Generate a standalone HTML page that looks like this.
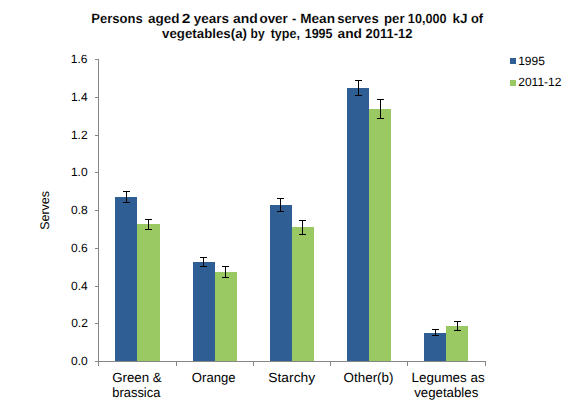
<!DOCTYPE html>
<html><head><meta charset="utf-8"><title>Chart</title><style>
html,body{margin:0;padding:0;background:#fff;width:575px;height:416px;overflow:hidden}
svg{display:block}
text{fill:#000;text-rendering:geometricPrecision}
</style></head><body>
<svg width="575" height="416" viewBox="0 0 575 416">
<g shape-rendering="crispEdges" fill="#000">
<rect x="115" y="197" width="22" height="164" fill="#2F5E95"/>
<rect x="137" y="224" width="23" height="137" fill="#9AC863"/>
<rect x="193" y="262" width="22" height="99" fill="#2F5E95"/>
<rect x="215" y="272" width="22" height="89" fill="#9AC863"/>
<rect x="270" y="205" width="22" height="156" fill="#2F5E95"/>
<rect x="292" y="227" width="22" height="134" fill="#9AC863"/>
<rect x="347" y="88" width="22" height="273" fill="#2F5E95"/>
<rect x="369" y="109" width="22" height="252" fill="#9AC863"/>
<rect x="424" y="333" width="22" height="28" fill="#2F5E95"/>
<rect x="446" y="326" width="22" height="35" fill="#9AC863"/>
<rect x="126" y="191" width="1" height="12"/>
<rect x="123" y="191" width="7" height="1"/>
<rect x="123" y="202" width="7" height="1"/>
<rect x="148" y="219" width="1" height="11"/>
<rect x="145" y="219" width="7" height="1"/>
<rect x="145" y="229" width="7" height="1"/>
<rect x="203" y="257" width="1" height="10"/>
<rect x="200" y="257" width="7" height="1"/>
<rect x="200" y="266" width="7" height="1"/>
<rect x="225" y="266" width="1" height="12"/>
<rect x="222" y="266" width="7" height="1"/>
<rect x="222" y="277" width="7" height="1"/>
<rect x="280" y="198" width="1" height="14"/>
<rect x="277" y="198" width="7" height="1"/>
<rect x="277" y="211" width="7" height="1"/>
<rect x="302" y="220" width="1" height="15"/>
<rect x="299" y="220" width="7" height="1"/>
<rect x="299" y="234" width="7" height="1"/>
<rect x="358" y="80" width="1" height="16"/>
<rect x="355" y="80" width="7" height="1"/>
<rect x="355" y="95" width="7" height="1"/>
<rect x="380" y="99" width="1" height="20"/>
<rect x="377" y="99" width="7" height="1"/>
<rect x="377" y="118" width="7" height="1"/>
<rect x="435" y="329" width="1" height="7"/>
<rect x="432" y="329" width="7" height="1"/>
<rect x="432" y="335" width="7" height="1"/>
<rect x="457" y="321" width="1" height="10"/>
<rect x="454" y="321" width="7" height="1"/>
<rect x="454" y="330" width="7" height="1"/>
<g fill="#868686">
<rect x="98" y="59" width="1" height="306"/>
<rect x="95" y="361" width="391" height="1"/>
<rect x="95" y="59" width="4" height="1"/>
<rect x="95" y="97" width="4" height="1"/>
<rect x="95" y="135" width="4" height="1"/>
<rect x="95" y="172" width="4" height="1"/>
<rect x="95" y="210" width="4" height="1"/>
<rect x="95" y="248" width="4" height="1"/>
<rect x="95" y="286" width="4" height="1"/>
<rect x="95" y="323" width="4" height="1"/>
<rect x="95" y="361" width="4" height="1"/>
<rect x="98" y="361" width="1" height="5"/>
<rect x="176" y="361" width="1" height="5"/>
<rect x="253" y="361" width="1" height="5"/>
<rect x="330" y="361" width="1" height="5"/>
<rect x="407" y="361" width="1" height="5"/>
<rect x="485" y="361" width="1" height="5"/>
</g>
<rect x="510" y="58" width="6" height="6" fill="#2F5E95"/>
<rect x="510" y="80" width="6" height="6" fill="#9AC863"/>
</g>
<g>
<text transform="translate(91.372,23) scale(0.9768,1)" x="0.000" y="0" style='font-family:"Liberation Sans",sans-serif;font-size:13.33px;font-weight:bold;stroke:#fff;stroke-width:0.1px'>Persons</text>
<text transform="translate(147.998,23) scale(1.0137,1)" x="0.000" y="0" style='font-family:"Liberation Sans",sans-serif;font-size:13.33px;font-weight:bold;stroke:#fff;stroke-width:0.1px'>aged</text>
<text transform="translate(181.781,23) scale(1.1711,1)" x="0.000" y="0" style='font-family:"Liberation Sans",sans-serif;font-size:13.33px;font-weight:bold;stroke:#fff;stroke-width:0.1px'>2</text>
<text transform="translate(193.777,23) scale(1.0102,1)" x="0.000" y="0" style='font-family:"Liberation Sans",sans-serif;font-size:13.33px;font-weight:bold;stroke:#fff;stroke-width:0.1px'>years</text>
<text transform="translate(233.059,23) scale(1.0466,1)" x="0.000" y="0" style='font-family:"Liberation Sans",sans-serif;font-size:13.33px;font-weight:bold;stroke:#fff;stroke-width:0.1px'>and</text>
<text transform="translate(259.451,23) scale(1.0057,1)" x="0.000" y="0" style='font-family:"Liberation Sans",sans-serif;font-size:13.33px;font-weight:bold;stroke:#fff;stroke-width:0.1px'>over</text>
<text transform="translate(291.963,23) scale(0.9566,1)" x="0.000" y="0" style='font-family:"Liberation Sans",sans-serif;font-size:13.33px;font-weight:bold;stroke:#fff;stroke-width:0.1px'>-</text>
<text transform="translate(300.192,23) scale(1.0216,1)" x="0.000" y="0" style='font-family:"Liberation Sans",sans-serif;font-size:13.33px;font-weight:bold;stroke:#fff;stroke-width:0.1px'>Mean</text>
<text transform="translate(337.228,23) scale(0.9807,1)" x="0.000" y="0" style='font-family:"Liberation Sans",sans-serif;font-size:13.33px;font-weight:bold;stroke:#fff;stroke-width:0.1px'>serves</text>
<text transform="translate(383.970,23) scale(0.9939,1)" x="0.000" y="0" style='font-family:"Liberation Sans",sans-serif;font-size:13.33px;font-weight:bold;stroke:#fff;stroke-width:0.1px'>per</text>
<text transform="translate(407.855,23) scale(0.9513,1)" x="0.000" y="0" style='font-family:"Liberation Sans",sans-serif;font-size:13.33px;font-weight:bold;stroke:#fff;stroke-width:0.1px'>10,000</text>
<text transform="translate(452.516,23) scale(1.0184,1)" x="0.000" y="0" style='font-family:"Liberation Sans",sans-serif;font-size:13.33px;font-weight:bold;stroke:#fff;stroke-width:0.1px'>kJ</text>
<text transform="translate(470.891,23) scale(0.9650,1)" x="0.000" y="0" style='font-family:"Liberation Sans",sans-serif;font-size:13.33px;font-weight:bold;stroke:#fff;stroke-width:0.1px'>of</text>
<text transform="translate(162.095,38) scale(0.9961,1)" x="0.000" y="0" style='font-family:"Liberation Sans",sans-serif;font-size:13.33px;font-weight:bold;stroke:#fff;stroke-width:0.1px'>vegetables(a)</text>
<text transform="translate(250.534,38) scale(0.9022,1)" x="0.000" y="0" style='font-family:"Liberation Sans",sans-serif;font-size:13.33px;font-weight:bold;stroke:#fff;stroke-width:0.1px'>by</text>
<text transform="translate(270.660,38) scale(0.9413,1)" x="0.000" y="0" style='font-family:"Liberation Sans",sans-serif;font-size:13.33px;font-weight:bold;stroke:#fff;stroke-width:0.1px'>type,</text>
<text transform="translate(304.676,38) scale(0.9408,1)" x="0.000" y="0" style='font-family:"Liberation Sans",sans-serif;font-size:13.33px;font-weight:bold;stroke:#fff;stroke-width:0.1px'>1995</text>
<text transform="translate(337.521,38) scale(1.0346,1)" x="0.000" y="0" style='font-family:"Liberation Sans",sans-serif;font-size:13.33px;font-weight:bold;stroke:#fff;stroke-width:0.1px'>and</text>
<text transform="translate(365.570,38) scale(0.9745,1)" x="0.000" y="0" style='font-family:"Liberation Sans",sans-serif;font-size:13.33px;font-weight:bold;stroke:#fff;stroke-width:0.1px'>2011-12</text>
<text transform="translate(70.837,63) scale(1.0000,1)" x="0.000" y="0" style='font-family:"Liberation Sans",sans-serif;font-size:12px'>1.6</text>
<text transform="translate(70.904,101) scale(1.0000,1)" x="0.000" y="0" style='font-family:"Liberation Sans",sans-serif;font-size:12px'>1.4</text>
<text transform="translate(70.900,139) scale(1.0000,1)" x="0.000" y="0" style='font-family:"Liberation Sans",sans-serif;font-size:12px'>1.2</text>
<text transform="translate(70.912,176) scale(1.0000,1)" x="0.000" y="0" style='font-family:"Liberation Sans",sans-serif;font-size:12px'>1.0</text>
<text transform="translate(70.994,214) scale(1.0000,1)" x="0.000" y="0" style='font-family:"Liberation Sans",sans-serif;font-size:12px'>0.8</text>
<text transform="translate(71.016,252) scale(1.0000,1)" x="0.000" y="0" style='font-family:"Liberation Sans",sans-serif;font-size:12px'>0.6</text>
<text transform="translate(70.955,290) scale(1.0000,1)" x="0.000" y="0" style='font-family:"Liberation Sans",sans-serif;font-size:12px'>0.4</text>
<text transform="translate(71.125,327) scale(1.0000,1)" x="0.000" y="0" style='font-family:"Liberation Sans",sans-serif;font-size:12px'>0.2</text>
<text transform="translate(70.961,365) scale(1.0000,1)" x="0.000" y="0" style='font-family:"Liberation Sans",sans-serif;font-size:12px'>0.0</text>
<text transform="translate(112.174,382) scale(0.9981,1)" x="0.000" y="0" style='font-family:"Liberation Sans",sans-serif;font-size:13.33px'>Green &amp;</text>
<text transform="translate(112.325,396.5) scale(0.9678,1)" x="0.000" y="0" style='font-family:"Liberation Sans",sans-serif;font-size:13.33px'>brassica</text>
<text transform="translate(191.816,382) scale(0.9838,1)" x="0.000" y="0" style='font-family:"Liberation Sans",sans-serif;font-size:13.33px'>Orange</text>
<text transform="translate(268.351,382) scale(1.0342,1)" x="0.000" y="0" style='font-family:"Liberation Sans",sans-serif;font-size:13.33px'>Starchy</text>
<text transform="translate(343.618,382) scale(1.0044,1)" x="0.000" y="0" style='font-family:"Liberation Sans",sans-serif;font-size:13.33px'>Other(b)</text>
<text transform="translate(411.598,382) scale(1.0063,1)" x="0.000" y="0" style='font-family:"Liberation Sans",sans-serif;font-size:13.33px'>Legumes as</text>
<text transform="translate(414.146,396.5) scale(0.9953,1)" x="0.000" y="0" style='font-family:"Liberation Sans",sans-serif;font-size:13.33px'>vegetables</text>
<text transform="translate(518.162,65) scale(1.0000,1)" x="0.000" y="0" style='font-family:"Liberation Sans",sans-serif;font-size:12px'>1995</text>
<text transform="translate(518.262,86) scale(1.0000,1)" x="0.000" y="0" style='font-family:"Liberation Sans",sans-serif;font-size:12px'>2011-12</text>
<text transform="translate(48.75,210.4) rotate(-90)" text-anchor="middle" style='font-family:"Liberation Sans",sans-serif;font-size:12.5px'>Serves</text>
</g>
</svg>
</body></html>
